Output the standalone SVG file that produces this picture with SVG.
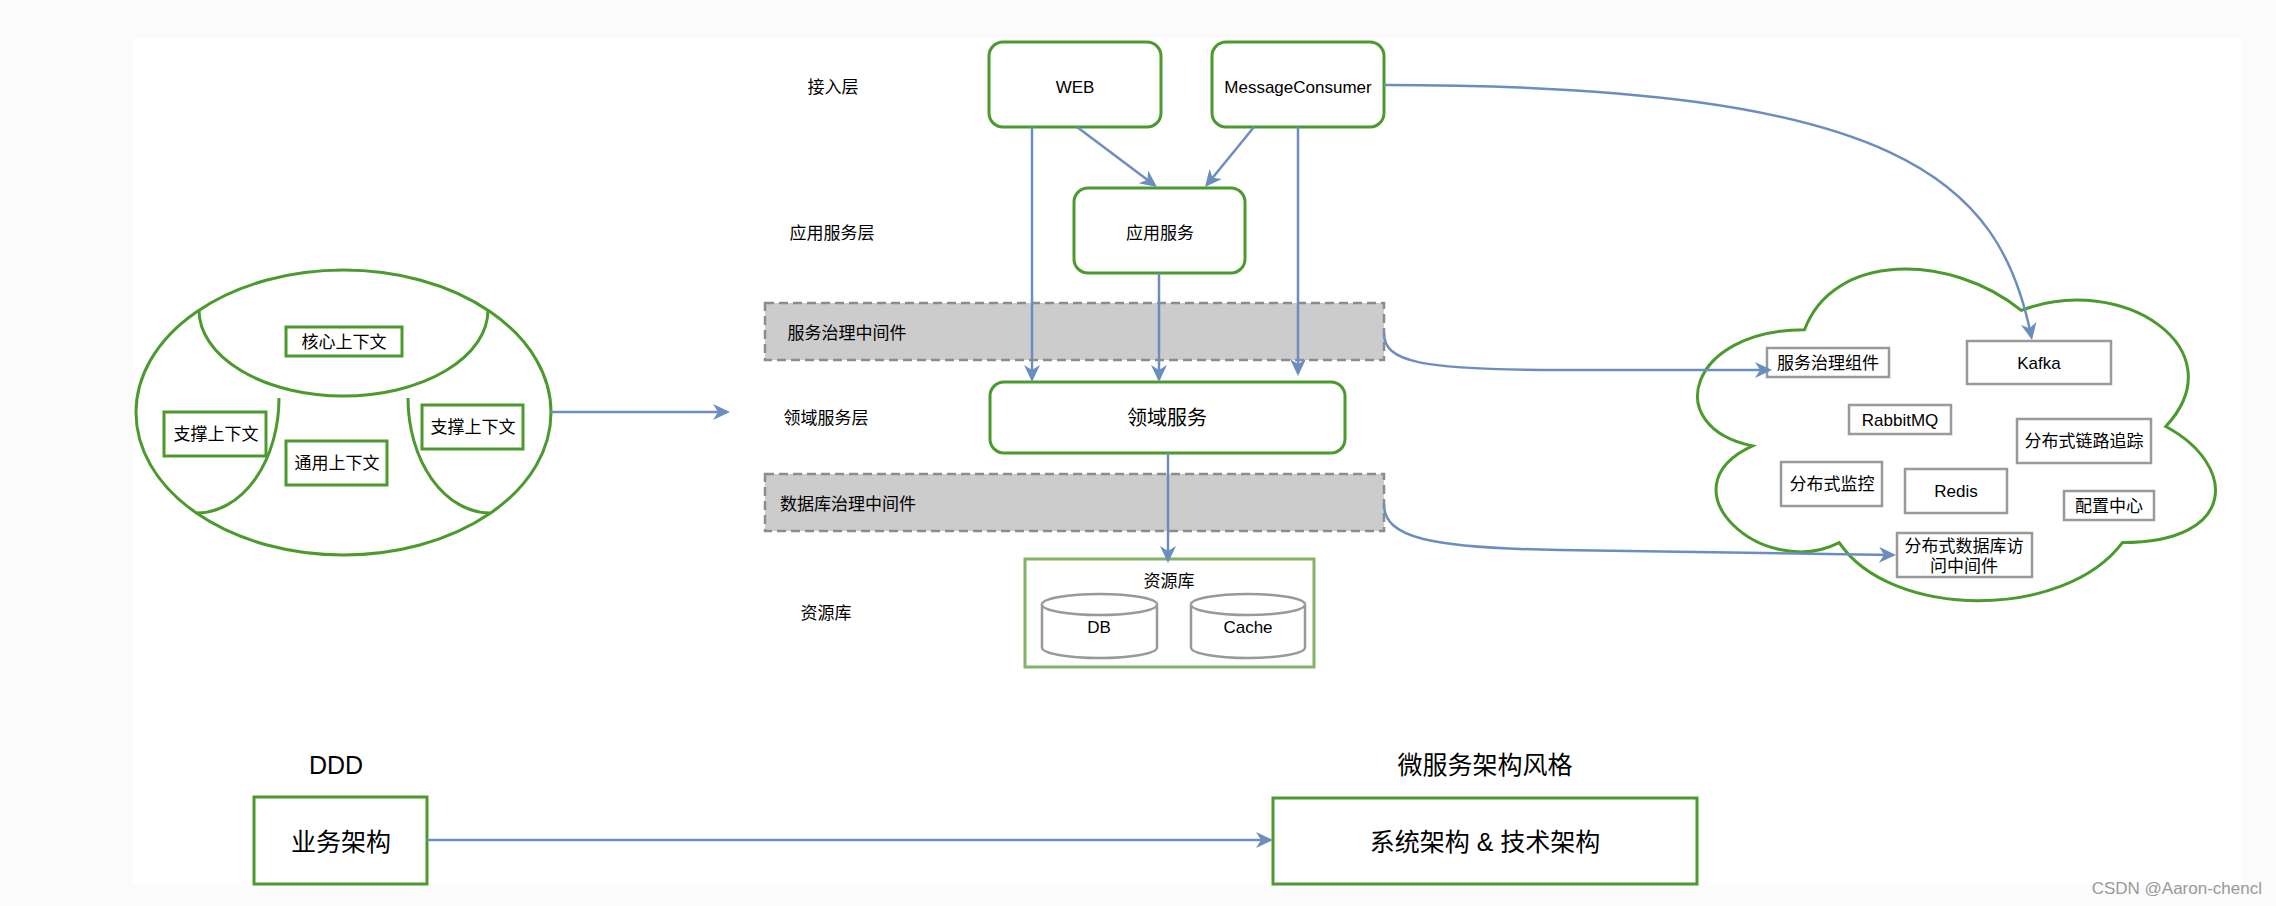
<svg xmlns="http://www.w3.org/2000/svg" width="2276" height="906" viewBox="0 0 2276 906">
<defs>
<style>
.box{fill:#fff;stroke:#4b9a2d;stroke-width:3}
.lbox{fill:#fff;stroke:#82b366;stroke-width:3}
.gbox{fill:#fff;stroke:#999;stroke-width:2.5}
.band{fill:#ccc;stroke:#8c8c8c;stroke-width:2.5;stroke-dasharray:9 5}
.edge{fill:none;stroke:#6c8ebf;stroke-width:2.5;marker-end:url(#arr)}
.line{fill:none;stroke:#4b9a2d;stroke-width:3}
.t{font-family:"Liberation Sans","Noto Sans CJK SC",sans-serif;font-size:17px;fill:#000;text-anchor:middle;dominant-baseline:central}
.mid{font-size:20px}
.big{font-size:25px}
</style>
<marker id="arr" markerUnits="userSpaceOnUse" markerWidth="18" markerHeight="16" refX="14" refY="8" orient="auto" viewBox="0 0 17 16">
<path d="M0,0 L17,8 L0,16 L5,8 z" fill="#6c8ebf"/>
</marker>
</defs>
<rect x="0" y="0" width="2276" height="906" fill="#fbfbfb"/>
<rect x="133" y="38" width="2109" height="847" fill="#fff"/>

<g id="ddd-ellipse">
<ellipse cx="343.5" cy="412.5" rx="207.5" ry="142.5" class="line" fill="#fff"/>
<path class="line" d="M199,310 A144.5,86 0 0 0 488,310"/>
<path class="line" d="M279,398 A82,115 0 0 1 197,513"/>
<path class="line" d="M408,398 A82,115 0 0 0 490,513"/>
</g>
<g id="core-ctx"><rect class="box" x="286" y="327" width="116" height="29"/><text class="t" x="344" y="342">核心上下文</text></g>
<g id="support-ctx-left"><rect class="box" x="164" y="412" width="102" height="44"/><text class="t" x="216" y="434">支撑上下文</text></g>
<g id="generic-ctx"><rect class="box" x="286" y="441" width="101" height="44"/><text class="t" x="337" y="463">通用上下文</text></g>
<g id="support-ctx-right"><rect class="box" x="422" y="405" width="101" height="44"/><text class="t" x="473" y="427">支撑上下文</text></g>

<g id="layer-labels">
<text class="t" x="833" y="87">接入层</text>
<text class="t" x="832" y="233">应用服务层</text>
<text class="t" x="826" y="418">领域服务层</text>
<text class="t" x="826" y="613">资源库</text>
</g>

<g id="band-service"><rect class="band" x="765" y="303" width="619" height="57"/><text class="t" x="847" y="333">服务治理中间件</text></g>
<g id="band-db"><rect class="band" x="765" y="474" width="619" height="57"/><text class="t" x="848" y="504">数据库治理中间件</text></g>

<g id="web"><rect class="box" x="989" y="42" width="172" height="85" rx="14"/><text class="t" x="1075" y="87">WEB</text></g>
<g id="message-consumer"><rect class="box" x="1212" y="42" width="172" height="85" rx="14"/><text class="t" x="1298" y="87">MessageConsumer</text></g>
<g id="app-service"><rect class="box" x="1074" y="188" width="171" height="85" rx="14"/><text class="t" x="1160" y="233">应用服务</text></g>
<g id="domain-service"><rect class="box" x="990" y="382" width="355" height="71" rx="14"/><text class="t mid" x="1167" y="418">领域服务</text></g>

<g id="resource">
<rect class="lbox" x="1025" y="559" width="289" height="108"/>
<text class="t" x="1169" y="581">资源库</text>
</g>
<g id="db">
<path class="gbox" d="M1042,604.5 a57.5,10.5 0 0 1 115,0 v43 a57.5,10.5 0 0 1 -115,0 z"/>
<path class="gbox" fill="none" d="M1042,604.5 a57.5,10.5 0 0 0 115,0"/>
<text class="t" x="1099" y="627">DB</text>
</g>
<g id="cache">
<path class="gbox" d="M1191,604.5 a57,10.5 0 0 1 114,0 v43 a57,10.5 0 0 1 -114,0 z"/>
<path class="gbox" fill="none" d="M1191,604.5 a57,10.5 0 0 0 114,0"/>
<text class="t" x="1248" y="627">Cache</text>
</g>

<g id="cloud">
<path class="line" fill="#fff" d="M1804.5,329.75 C1688.9,329.75 1660,426.5 1752.5,445.85 C1660,488.4 1764,581.3 1839.2,542.6 C1891.2,620 2064.6,620 2122.4,542.6 C2238,542.6 2238,465.2 2165.75,426.5 C2238,349.1 2122.4,271.7 2021.25,310.4 C1949,252.35 1833.4,252.35 1804.5,329.75 Z"/>
</g>
<g id="svc-gov"><rect class="gbox" x="1767" y="348" width="122" height="29"/><text class="t" x="1828" y="363">服务治理组件</text></g>
<g id="kafka"><rect class="gbox" x="1967" y="341" width="144" height="43"/><text class="t" x="2039" y="363">Kafka</text></g>
<g id="rabbitmq"><rect class="gbox" x="1849" y="405" width="102" height="29"/><text class="t" x="1900" y="420">RabbitMQ</text></g>
<g id="tracing"><rect class="gbox" x="2017" y="419" width="134" height="44"/><text class="t" x="2084" y="441">分布式链路追踪</text></g>
<g id="monitor"><rect class="gbox" x="1781" y="462" width="101" height="44"/><text class="t" x="1832" y="484">分布式监控</text></g>
<g id="redis"><rect class="gbox" x="1905" y="469" width="102" height="44"/><text class="t" x="1956" y="491">Redis</text></g>
<g id="config"><rect class="gbox" x="2064" y="491" width="90" height="29"/><text class="t" x="2109" y="506">配置中心</text></g>
<g id="db-access"><rect class="gbox" x="1897" y="533" width="135" height="44"/><text class="t" x="1964" y="546">分布式数据库访</text><text class="t" x="1964" y="566">问中间件</text></g>

<g id="ddd-label"><text class="t big" x="336" y="765">DDD</text></g>
<g id="biz-arch"><rect class="box" x="254" y="797" width="173" height="87"/><text class="t big" x="341" y="842">业务架构</text></g>
<g id="ms-label"><text class="t big" x="1485" y="765">微服务架构风格</text></g>
<g id="sys-arch"><rect class="box" x="1273" y="798" width="424" height="86"/><text class="t big" x="1485" y="842">系统架构 &amp; 技术架构</text></g>

<g id="connectors">
<path class="edge" d="M551,412 L727,412"/>
<path class="edge" d="M1077,127 L1154.6,185.2"/>
<path class="edge" d="M1254,127 L1206.9,184.7"/>
<path class="edge" d="M1032,127 L1032,379"/>
<path class="edge" d="M1159,273 L1159,379"/>
<path class="edge" d="M1298,127 L1298,373"/>
<path class="edge" d="M1168,453 L1168,560"/>
<path class="edge" d="M1384,85 C1900,85 2000,180 2031.4,337"/>
<path class="edge" d="M1384,333 C1384,362 1420,370 1560,370 L1769,370"/>
<path class="edge" d="M1384,504 C1384,538 1430,548 1560,550 L1893,555"/>
<path class="edge" d="M427,840 L1270,840"/>
</g>

<text x="2262" y="894" font-family="Liberation Sans, sans-serif" font-size="17" fill="#999" text-anchor="end">CSDN @Aaron-chencl</text>
</svg>
